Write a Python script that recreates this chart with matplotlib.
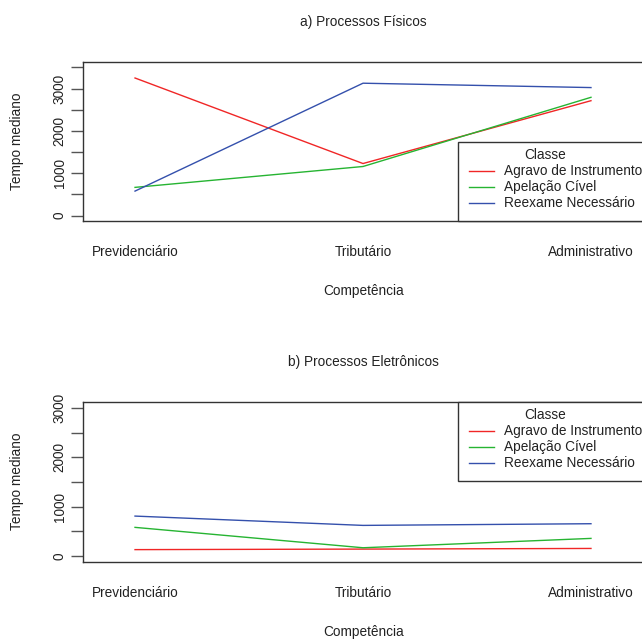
import matplotlib
matplotlib.use("Agg")
import matplotlib.pyplot as plt
from matplotlib.patches import Rectangle
from matplotlib.lines import Line2D

plt.rcParams['font.family'] = ['Liberation Sans', 'DejaVu Sans']

competencias = ["Previdenciário", "Tributário", "Administrativo"]
classes = ["Agravo de Instrumento", "Apelação Cível", "Reexame Necessário"]
cores = ["#F02626", "#26B432", "#3450AC"]

# Tempo mediano por classe (linhas) e competência (colunas)
fisicos = {
    "Agravo de Instrumento": [3250, 1230, 2714],
    "Apelação Cível": [667, 1160, 2794],
    "Reexame Necessário": [579, 3127, 3024],
}
eletronicos = {
    "Agravo de Instrumento": [125, 136, 149],
    "Apelação Cível": [577, 163, 353],
    "Reexame Necessário": [806, 617, 651],
}

titulos = ["a) Processos Físicos", "b) Processos Eletrônicos"]
ylims = [(-120, 3635), (-120, 3128)]
yticks_major = [0, 1000, 2000, 3000]
yticks_all = [[0, 500, 1000, 1500, 2000, 2500, 3000, 3500],
              [0, 500, 1000, 1500, 2000, 2500, 3000]]

W, H = 642, 639
fig = plt.figure(figsize=(W / 100, H / 100), dpi=100)
FS = 9.8
TXT = "#222222"

# pixel boxes: (left, top, right, bottom)
boxes = [(83.5, 61.7, 643.5, 220.7), (83.5, 401.7, 643.5, 561.7)]
title_y = [22, 362]
ticklab_y = [252, 593]
xlabel_y = [291, 632]
legend_tops = [142, 401.7]
legend_bottoms = [220.7, 481]

x = [1, 2, 3]
for i, dados in enumerate([fisicos, eletronicos]):
    l, t, r, b = boxes[i]
    ax = fig.add_axes([l / W, 1 - b / H, (r - l) / W, (b - t) / H])
    for cls, cor in zip(classes, cores):
        ax.plot(x, dados[cls], color=cor, lw=1.0)
    ax.set_xlim(0.774, 3.226 + 1.0 / 228)
    ax.set_ylim(*ylims[i])
    ax.set_xticks(x)
    ax.set_xticklabels(competencias, fontsize=FS, color=TXT, va="center")
    pad_px = ticklab_y[i] - b
    ax.tick_params(axis="x", length=0, pad=pad_px * 0.72)
    ax.set_yticks(yticks_all[i])
    ax.set_yticklabels([str(v) if v in yticks_major else "" for v in yticks_all[i]],
                       rotation=90, va="center", fontsize=FS, color=TXT)
    ax.tick_params(axis="y", length=9, width=1.0, color="#555555", pad=3)
    for s in ax.spines.values():
        s.set_color("#333333")
        s.set_linewidth(1.0)
    fig.text((l + 560 / 2) / W, 1 - title_y[i] / H, titulos[i], ha="center",
             va="center", fontsize=FS, color=TXT)
    ax.set_xlabel("Competência", fontsize=FS, color=TXT, va="center")
    ax.xaxis.set_label_coords(0.5, (b - xlabel_y[i]) / (b - t))
    ax.set_ylabel("Tempo mediano", fontsize=FS, color=TXT, va="center")
    ax.yaxis.set_label_coords((17 - l) / (r - l), 0.5)

    # legend box drawn in figure pixels
    lt, lb = legend_tops[i], legend_bottoms[i]
    fig.patches.append(Rectangle((458 / W, 1 - lb / H), 200 / W, (lb - lt) / H,
                                 transform=fig.transFigure, facecolor="white",
                                 edgecolor="#333333", lw=1.0, zorder=5))
    fig.text(545 / W, 1 - (lt + 13) / H, "Classe", ha="center", va="center",
             fontsize=FS, color=TXT, zorder=6)
    for k, (cls, cor) in enumerate(zip(classes, cores)):
        yy = 1 - (lt + 29 + 16 * k) / H
        fig.lines.append(Line2D([469 / W, 494 / W], [yy, yy], transform=fig.transFigure,
                                color=cor, lw=1.0, zorder=6))
        fig.text(504 / W, yy, cls, ha="left", va="center", fontsize=FS,
                 color=TXT, zorder=6)

fig.savefig("out.png", dpi=100)
